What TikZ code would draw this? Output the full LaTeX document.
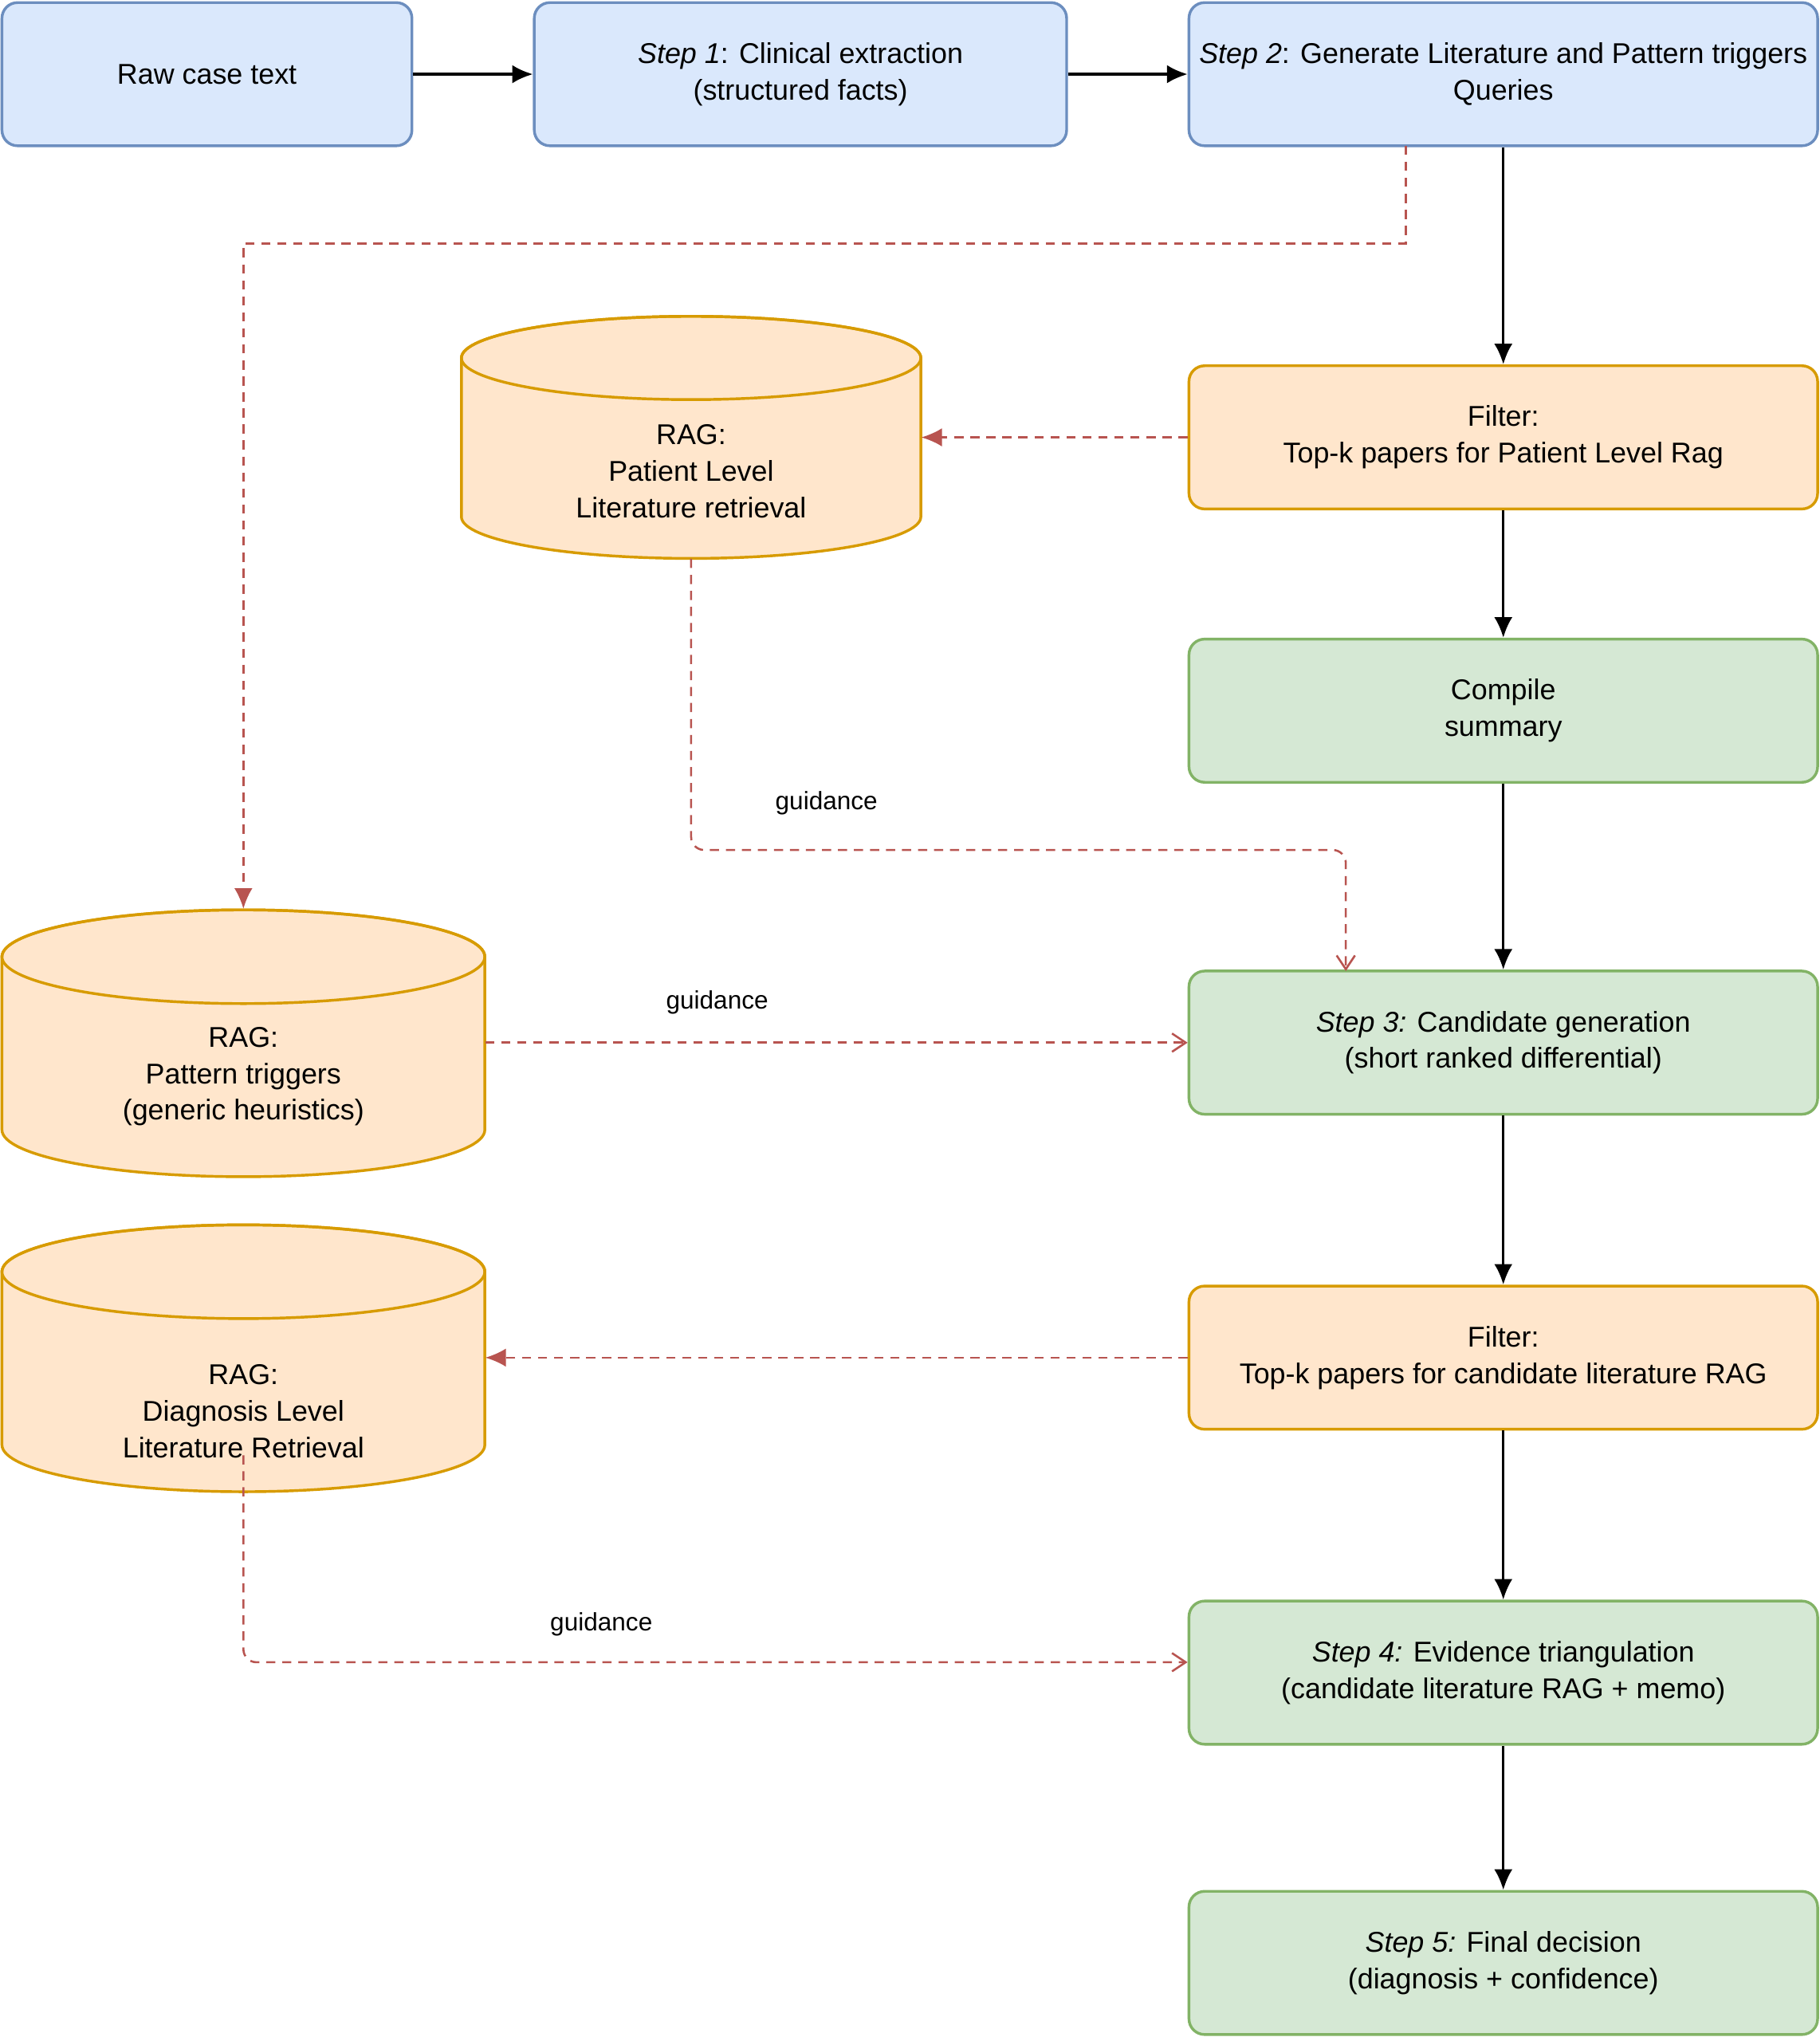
\documentclass[tikz,border=0pt]{standalone}
\usepackage{fontspec}
\setmainfont{Liberation Sans}
\usetikzlibrary{positioning}
\usetikzlibrary{arrows.meta}

\definecolor{bluefill}{HTML}{DAE8FC}
\definecolor{blueline}{HTML}{6C8EBF}
\definecolor{orangefill}{HTML}{FFE6CC}
\definecolor{orangeline}{HTML}{D79B00}
\definecolor{greenfill}{HTML}{D5E8D4}
\definecolor{greenline}{HTML}{82B366}
\definecolor{redline}{HTML}{B85450}

% cylinder: centre x, top ellipse y, bottom ellipse y, half width, y radius
\newcommand{\dbcyl}[5]{%
  \draw[orangeline,fill=orangefill,line width=1.2pt]
    (#1-#4,#2) -- (#1-#4,#3) arc[start angle=180,end angle=360,x radius=#4,y radius=#5]
    -- (#1+#4,#2) arc[start angle=0,end angle=180,x radius=#4,y radius=#5] -- cycle;
  \draw[orangeline,line width=1.2pt] (#1,#2) ellipse[x radius=#4,y radius=#5];}

\begin{document}
\begin{tikzpicture}[
        box/.style={rectangle,rounded corners=0.24cm,line width=1.2pt,align=center,
            minimum height=2.2cm,font=\fontsize{12.5}{16}\selectfont},
        bluebox/.style={box,draw=blueline,fill=bluefill},
        orangebox/.style={box,draw=orangeline,fill=orangefill,minimum width=9.66cm},
        greenbox/.style={box,draw=greenline,fill=greenfill,minimum width=9.66cm},
        dbtext/.style={align=center,font=\fontsize{12.5}{16}\selectfont,inner sep=0pt},
        arr/.style={line width=1.1pt,-{Latex[length=9pt,width=8pt]}},
        redarr/.style={line width=0.9pt,redline,dashed,dash pattern=on 4pt off 3pt,-{Latex[length=9pt,width=8pt]}},
        openarr/.style={line width=0.9pt,redline,dashed,dash pattern=on 4pt off 3pt,rounded corners=0.2cm,-{Straight Barb[length=6pt,width=8pt]}},
        lbl/.style={font=\fontsize{11}{13}\selectfont}
        ]
        \useasboundingbox (0,0) rectangle (27.96,-31.36);
        % top row
        \node (raw) [bluebox,minimum width=6.3cm] at (3.18,-1.14) {Raw case text};
        \node (s1) [bluebox,minimum width=8.18cm] at (12.3,-1.14) {\textit{Step 1}: Clinical extraction\\(structured facts)};
        \node (s2) [bluebox,minimum width=9.66cm,inner xsep=1pt] at (23.1,-1.14) {\textit{Step 2}: Generate Literature and Pattern triggers\\Queries};
        \draw[arr] (raw) -- (s1);
        \draw[arr] (s1) -- (s2);
        % right column
        \node (f1) [orangebox] at (23.1,-6.72) {Filter:\\Top-k papers for Patient Level Rag};
        \node (cs) [greenbox] at (23.1,-10.92) {Compile\\summary};
        \node (s3) [greenbox] at (23.1,-16.02) {\textit{Step 3:} Candidate generation\\(short ranked differential)};
        \node (f2) [orangebox] at (23.1,-20.86) {Filter:\\Top-k papers for candidate literature RAG};
        \node (s4) [greenbox] at (23.1,-25.70) {\textit{Step 4:} Evidence triangulation\\(candidate literature RAG + memo)};
        \node (s5) [greenbox] at (23.1,-30.16) {\textit{Step 5:} Final decision\\(diagnosis + confidence)};
        \draw[arr] (s2) -- (f1);
        \draw[arr] (f1) -- (cs);
        \draw[arr] (cs) -- (s3);
        \draw[arr] (s3) -- (f2);
        \draw[arr] (f2) -- (s4);
        \draw[arr] (s4) -- (s5);
        % databases
        \dbcyl{10.62}{-5.50}{-7.94}{3.53}{0.64}
        \dbcyl{3.74}{-14.70}{-17.36}{3.71}{0.72}
        \dbcyl{3.74}{-19.54}{-22.20}{3.71}{0.72}
        \node (rag1) [inner sep=0pt,minimum width=7.06cm,minimum height=3.72cm] at (10.62,-6.72) {};
        \node (rag2) [inner sep=0pt,minimum width=7.42cm,minimum height=4.10cm] at (3.74,-16.02) {};
        \node (rag3) [inner sep=0pt,minimum width=7.42cm,minimum height=4.10cm] at (3.74,-20.86) {};
        \node [dbtext] at (10.62,-7.24) {RAG:\\Patient Level\\Literature retrieval};
        \node [dbtext] at (3.74,-16.54) {RAG:\\Pattern triggers\\(generic heuristics)};
        \node [dbtext] at (3.74,-21.68) {RAG:\\Diagnosis Level\\Literature Retrieval};
        % dashed links
        \coordinate (q) at (21.6,-2.24);
        \draw[redarr] (q) -- (21.6,-3.74) -- (3.74,-3.74) -- (rag2.north);
        \draw[redarr] (f1) -- (rag1);
        \draw[redarr] (f2) -- (rag3);
        \draw[openarr] (rag1.south) -- (10.62,-13.06) -- (20.68,-13.06) -- (20.68,-14.92);
        \draw[openarr] (rag2.east) -- (s3.west);
        \coordinate (d3) at (3.74,-22.36);
        \draw[openarr] (d3) -- (3.74,-25.54) -- (s4.west|-0,-25.54);
        \node [lbl] at (12.7,-12.34) {guidance};
        \node [lbl] at (11.02,-15.40) {guidance};
        \node [lbl] at (9.24,-24.96) {guidance};
\end{tikzpicture}
\end{document}
